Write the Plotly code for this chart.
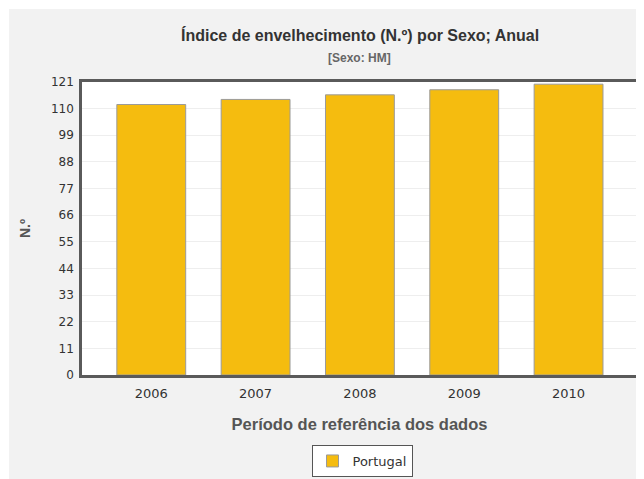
import plotly.graph_objects as go

categories = ["2006", "2007", "2008", "2009", "2010"]
values = [111.7, 113.8, 115.7, 117.8, 120.1]
y_ticks = [0, 11, 22, 33, 44, 55, 66, 77, 88, 99, 110, 121]
series_name = "Portugal"

# The page has an 8px body margin; figure is sized to fit the 644x479 window.
OFF = 8
W, H = 644 - OFF, 479 - OFF
# plot area in page pixels: x 82..637, y 82..375
L = 82 - OFF
T = 82 - OFF
R = W - (637 - OFF)
B = H - (375 - OFF)
pw = W - L - R
ph = H - T - B

def px_x(page_x):
    return (page_x - OFF - L) / pw

def px_y(page_y):
    return (H - B - (page_y - OFF)) / ph

fig = go.Figure()
fig.add_trace(go.Bar(
    x=list(range(len(categories))),
    y=values,
    name=series_name,
    width=0.66,
    marker=dict(color="#F5BC0F", line=dict(color="#9a9a9a", width=1)),
    showlegend=True,
))

sans = "DejaVu Sans, Verdana, sans-serif"
arial = "Liberation Sans, Arial, sans-serif"

fig.update_layout(
    width=W, height=H,
    margin=dict(l=L, r=R, t=T, b=B, pad=0, autoexpand=False),
    paper_bgcolor="#f2f2f2",
    plot_bgcolor="#ffffff",
    font=dict(family=sans, size=12, color="#333333"),
    showlegend=True,
    legend=dict(
        x=px_x(362), xanchor="center", y=px_y(461), yanchor="middle",
        bgcolor="#ffffff", bordercolor="#555555", borderwidth=1,
        font=dict(family=sans, size=13, color="#333333"),
        orientation="h", itemwidth=30,
    ),
    xaxis=dict(
        range=[-0.664, 4.656],
        tickmode="array",
        tickvals=list(range(len(categories))),
        ticktext=categories,
        showgrid=False,
        showline=True, linecolor="#5a5a5a", linewidth=2.5, mirror=True,
        ticks="", zeroline=False,
        tickfont=dict(family=sans, size=13, color="#333333"),
        ticklabelstandoff=5,
        title=dict(text="<b>Período de referência dos dados</b>",
                   font=dict(family=arial, size=16.5, color="#555555"), standoff=19),
        fixedrange=True,
    ),
    yaxis=dict(
        range=[0, 121],
        tickmode="array",
        tickvals=y_ticks,
        showgrid=True, gridcolor="#eeeeee", gridwidth=1,
        showline=True, linecolor="#5a5a5a", linewidth=2.5, mirror=True,
        ticks="", zeroline=False,
        tickfont=dict(family=sans, size=12, color="#333333"),
        ticklabelstandoff=3,
        title=dict(text="<b>N.º</b>", font=dict(family=arial, size=14, color="#555555"), standoff=18),
        fixedrange=True,
    ),
    shapes=[
        dict(type="rect", xref="paper", yref="paper",
             x0=-1, x1=2, y0=px_y(9), y1=2,
             fillcolor="#ffffff", line=dict(width=0), layer="above"),
        dict(type="rect", xref="paper", yref="paper",
             x0=-1, x1=px_x(9), y0=-1, y1=2,
             fillcolor="#ffffff", line=dict(width=0), layer="above"),
    ],
    annotations=[
        dict(text="<b>Índice de envelhecimento (N.º) por Sexo; Anual</b>",
             xref="paper", yref="paper", x=0.5, y=px_y(35),
             xanchor="center", yanchor="middle", showarrow=False,
             font=dict(family=arial, size=16, color="#333333")),
        dict(text="<b>[Sexo: HM]</b>",
             xref="paper", yref="paper", x=0.5, y=px_y(58),
             xanchor="center", yanchor="middle", showarrow=False,
             font=dict(family=arial, size=12, color="#666666")),
    ],
)

fig.write_html("out.html")
